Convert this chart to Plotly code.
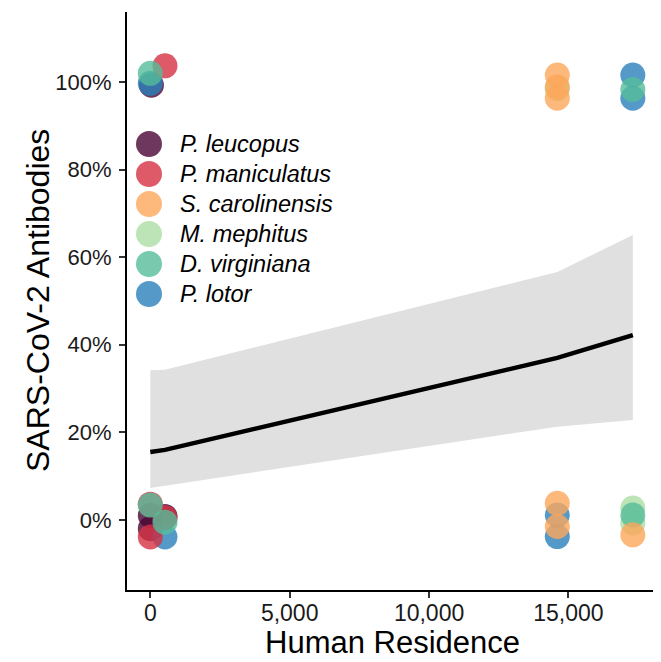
import plotly.graph_objects as go

# ---- data ----
species = ["P. leucopus", "P. maniculatus", "S. carolinensis",
           "M. mephitus", "D. virginiana", "P. lotor"]
colors = {"P. leucopus": "#4A0535", "P. maniculatus": "#D63144",
          "S. carolinensis": "#FDA65A", "M. mephitus": "#ABDDA4",
          "D. virginiana": "#55BD9A", "P. lotor": "#2A80BC"}

# observed points (human residence, antibody proportion, jittered as plotted)
leucopus_x = [0, 0, 527, 40]
leucopus_y = [0.010, -0.020, 0.008, 0.993]
maniculatus_x = [527, 0, 527, 0]
maniculatus_y = [1.037, -0.039, 0.005, 0.036]
carolinensis_x = [14600, 14600, 14600, 14600, 14600, 17310]
carolinensis_y = [1.016, 0.989, 0.963, 0.038, -0.015, -0.034]
mephitus_x = [17310, 17310, 14600]
mephitus_y = [0.027, -0.007, 0.985]
virginiana_x = [0, 0, 527, 17310, 17310]
virginiana_y = [1.020, 0.034, -0.005, 0.983, 0.011]
lotor_x = [0, 527, 14600, 14600, 17310, 17310]
lotor_y = [0.997, -0.039, 0.011, -0.038, 1.016, 0.963]

# fitted trend and confidence band
fit_x = [0, 527, 14600, 17310]
fit_y = [0.155, 0.160, 0.370, 0.422]
fit_upper = [0.342, 0.343, 0.566, 0.651]
fit_lower = [0.073, 0.078, 0.213, 0.228]

x_ticks = [0, 5000, 10000, 15000]
y_ticks = [0, 0.2, 0.4, 0.6, 0.8, 1.0]

points = {
    "P. leucopus": (leucopus_x, leucopus_y),
    "P. maniculatus": (maniculatus_x, maniculatus_y),
    "S. carolinensis": (carolinensis_x, carolinensis_y),
    "M. mephitus": (mephitus_x, mephitus_y),
    "D. virginiana": (virginiana_x, virginiana_y),
    "P. lotor": (lotor_x, lotor_y),
}
draw_order = ["P. leucopus", "P. lotor", "P. maniculatus",
              "M. mephitus", "D. virginiana", "S. carolinensis"]

FONT = "Liberation Sans, Arial, sans-serif"

fig = go.Figure()

# confidence ribbon
fig.add_trace(go.Scatter(x=fit_x, y=fit_upper, mode="lines", line=dict(width=0),
                         hoverinfo="skip", showlegend=False))
fig.add_trace(go.Scatter(x=fit_x, y=fit_lower, mode="lines", line=dict(width=0),
                         fill="tonexty", fillcolor="#E0E0E0",
                         hoverinfo="skip", showlegend=False))

for sp in draw_order:
    xs, ys = points[sp]
    fig.add_trace(go.Scatter(x=xs, y=ys, mode="markers", name=sp,
                             marker=dict(size=25, color=colors[sp], opacity=0.8,
                                         line=dict(width=0)),
                             showlegend=False))

fig.add_trace(go.Scatter(x=fit_x, y=fit_y, mode="lines",
                         line=dict(color="black", width=4.5),
                         showlegend=False))

# page body adds an 8px offset; layout measured in screen pixels
OFF = 8
W, H = 661, 662
PL, PR, PT, PB = 127, 657, 12, 590          # plot area in screen px
L, T = PL - OFF, PT - OFF
R = W - (PR - OFF)
B = H - (PB - OFF)
pw, ph = PR - PL, PB - PT


def px_x(sx):
    return (sx - PL) / pw


def px_y(sy):
    return (PB - sy) / ph


# manual legend (large keys)
for i, sp in enumerate(species):
    yc = 144 + i * 30
    fig.add_shape(type="circle", xref="paper", yref="paper",
                  xsizemode="pixel", ysizemode="pixel",
                  xanchor=px_x(149), yanchor=px_y(yc),
                  x0=-13, x1=13, y0=-13, y1=13,
                  fillcolor=colors[sp], opacity=0.8, line=dict(width=0))
    fig.add_annotation(x=px_x(178), y=px_y(yc), xref="paper", yref="paper",
                       text=f"<i>{sp}</i>", showarrow=False,
                       xanchor="left", yanchor="middle",
                       font=dict(family=FONT, size=23.5, color="black"))

# axis titles
fig.add_annotation(x=0.5, y=px_y(642), xref="paper", yref="paper",
                   text="Human Residence", showarrow=False,
                   xanchor="center", yanchor="middle",
                   font=dict(family=FONT, size=31, color="black"))
fig.add_annotation(x=px_x(38), y=0.5, xref="paper", yref="paper",
                   text="SARS-CoV-2 Antibodies", showarrow=False, textangle=-90,
                   xanchor="center", yanchor="middle",
                   font=dict(family=FONT, size=32, color="black"))

fig.update_layout(
    width=W, height=H,
    margin=dict(l=L, r=R, t=T, b=B, autoexpand=False),
    plot_bgcolor="white", paper_bgcolor="white",
    font=dict(family=FONT, color="black"),
    showlegend=False,
    xaxis=dict(range=[-836, 18177], tickvals=x_ticks, tickformat=",d",
               showline=True, linewidth=2, linecolor="black",
               ticks="outside", ticklen=6, tickwidth=1.5, tickcolor="#333333",
               showgrid=False, zeroline=False, ticklabelstandoff=-5,
               tickfont=dict(family=FONT, size=23, color="#1a1a1a")),
    yaxis=dict(range=[-0.16, 1.16], tickvals=y_ticks, tickformat=".0%",
               showline=True, linewidth=2, linecolor="black",
               ticks="outside", ticklen=6, tickwidth=1.5, tickcolor="#333333",
               showgrid=False, zeroline=False, ticklabelstandoff=3,
               tickfont=dict(family=FONT, size=22, color="#1a1a1a")),
)

fig.write_html("out.html")
